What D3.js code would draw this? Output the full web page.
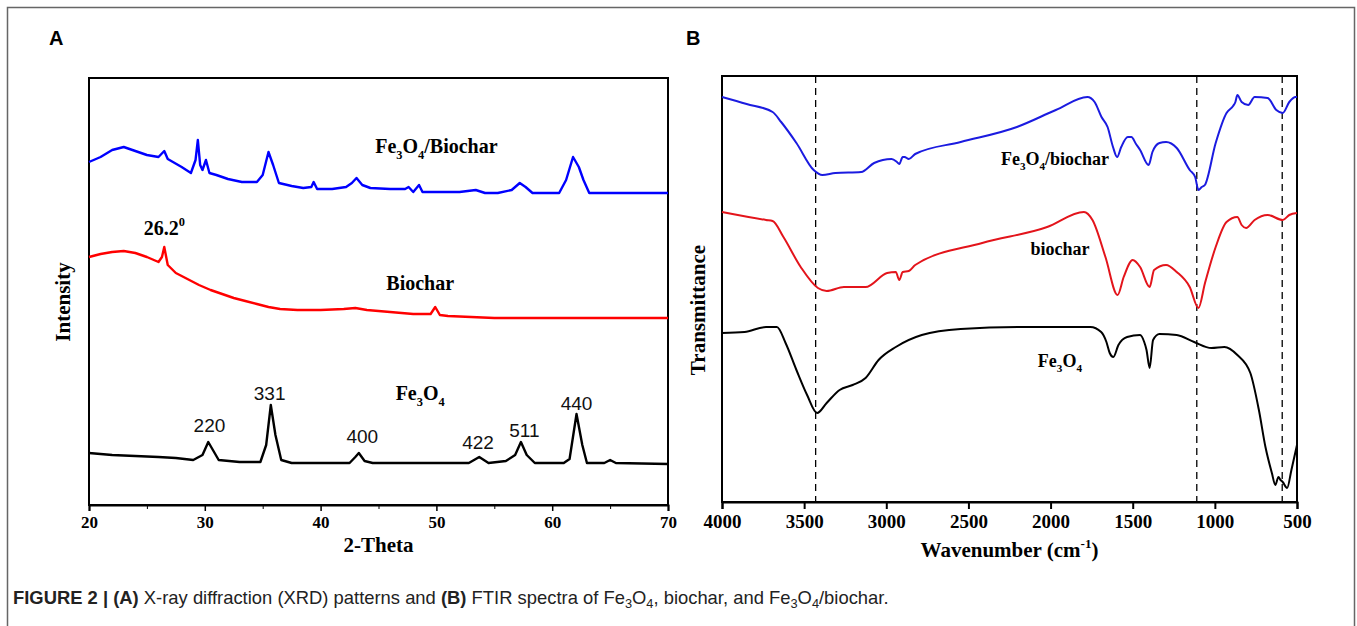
<html>
<head>
<script src="https://d3js.org/d3.v7.min.js"></script>
</head>
<style>
  body { margin: 0; background: #fff; }
  .axis text { font-family: "Liberation Serif", "Times New Roman", serif; font-weight: bold; }
  .axis path, .axis line { stroke: #000; }
</style>
<body>
<svg id="fig" width="1357" height="626"></svg>
<script>
// ---- data: XRD (2-theta, intensity a.u.) ----
const xrd_ticks = [20, 30, 40, 50, 60, 70];
const xrd_fe3o4 = [[20,52],[22,50],[24,49],[26,48],[27.5,47],[29,45],[29.8,50],[30.3,63],[30.7,55],[31.2,45],[33,43],[34.8,43],[35.3,60],[35.7,100],[36.1,70],[36.6,45],[37.5,42],[40,42],[42.5,42],[43,48],[43.3,52],[43.8,44],[44.5,42],[47,42],[50,42],[52.8,42],[53.7,48],[54.5,42],[56,44],[56.8,50],[57.3,63],[57.8,50],[58.5,42],[61,42],[61.5,46],[62.1,91],[62.6,60],[63,42],[64.5,42],[65,45],[65.5,42],[70,41]];
const xrd_biochar = [[20,248],[21,251],[22,253],[23,254],[24,252],[25,248],[26,243],[26.3,248],[26.5,258],[26.8,240],[27.5,232],[28.5,226],[29.5,220],[30.5,215],[31.5,211],[32.5,207],[33.5,204],[34.5,201],[35.5,198],[36.5,196],[38,195],[40,195],[42,196],[43,197],[44,195],[46,193],[48,191],[49.5,191],[49.9,198],[50.3,190],[51,189],[53,188],[55,187],[57,187],[60,187],[63,187],[66,187],[70,187]];
const xrd_composite = [[20,343],[21,348],[22,355],[23,358],[24,354],[25,350],[26,348],[26.5,354],[26.8,346],[28,338],[28.8,332],[29.2,345],[29.4,365],[29.6,340],[29.8,335],[30.1,345],[30.4,332],[31,330],[32,326],[33.2,323],[34.5,323],[35,330],[35.5,353],[35.9,340],[36.4,322],[37.5,319],[38.5,317],[39.2,318],[39.4,323],[39.7,316],[41,316],[42.2,318],[42.7,322],[43.1,327],[43.6,320],[44.3,317],[46,316],[47.3,316],[47.6,318],[48,313],[48.5,320],[48.8,313],[50,313],[52,313],[53.4,315],[54.2,312],[55.3,312],[56.5,315],[57.2,322],[57.7,318],[58.3,312],[60.6,312],[61.2,325],[61.8,348],[62.3,338],[62.7,325],[63.2,312],[65,312],[70,312]];
const hkl_labels = [["220",30.4,78],["331",35.6,110],["400",43.6,67],["422",53.6,61],["511",57.6,73],["440",62.1,100]];

// ---- data: FTIR (wavenumber, transmittance a.u.) ----
const ftir_ticks = [4000, 3500, 3000, 2500, 2000, 1500, 1000, 500];
const ftir_marks = [3430, 1110, 590];
const ftir_composite = [[4000,405],[3850,398],[3692,390],[3640,380],[3547,359],[3442,332],[3389,327],[3310,329],[3153,330],[3074,339],[2968,343],[2935,340],[2921,338],[2900,345],[2889,345],[2863,343],[2824,348],[2547,360],[2205,375],[1968,392],[1776,405],[1732,400],[1690,385],[1653,375],[1620,355],[1595,345],[1570,355],[1530,365],[1508,365],[1480,358],[1455,352],[1403,337],[1380,350],[1337,359],[1297,360],[1232,354],[1153,332],[1120,325],[1100,312],[1080,315],[1061,317],[995,359],[929,389],[889,396],[875,400],[863,407],[837,400],[797,397],[758,405],[679,404],[626,392],[587,389],[547,400],[508,405],[500,405]];
const ftir_biochar = [[4000,290],[3732,282],[3692,281],[3626,265],[3521,235],[3416,214],[3363,211],[3258,215],[3126,215],[2995,229],[2942,230],[2921,222],[2900,230],[2863,231],[2824,237],[2416,259],[2021,275],[1797,290],[1745,282],[1666,245],[1592,207],[1555,225],[1500,242],[1455,235],[1397,215],[1370,232],[1297,237],[1232,230],[1153,215],[1100,194],[1060,219],[995,255],[929,280],[863,285],[837,277],[810,274],[758,282],[679,287],[587,282],[547,287],[500,289]];
const ftir_fe3o4 = [[4000,169],[3863,170],[3732,175],[3666,175],[3613,159],[3547,132],[3482,107],[3421,89],[3363,99],[3284,112],[3205,117],[3126,124],[3047,142],[2942,155],[2784,167],[2547,173],[2153,175],[1758,175],[1692,170],[1660,160],[1640,149],[1618,145],[1587,157],[1534,165],[1455,167],[1430,160],[1416,152],[1397,134],[1376,162],[1337,168],[1232,167],[1126,160],[1021,154],[942,155],[863,147],[784,129],[732,92],[692,55],[653,29],[632,17],[613,25],[600,22],[587,20],[560,14],[534,32],[500,57]];

const svg = d3.select('#fig');
const serif = '"Liberation Serif", "Times New Roman", serif';
const sans = '"Liberation Sans", Arial, sans-serif';

// outer frame
svg.append('rect').attr('x', 7.5).attr('y', 7.5).attr('width', 1347).attr('height', 660)
   .attr('fill', 'none').attr('stroke', '#666').attr('stroke-width', 1.5);

// text helper with sub/superscript pieces: [text, 'sub'|'sup'|null, dy]
function richText(g, parts, size, opts) {
  const t = g.append('text')
    .attr('font-family', opts.family || serif)
    .attr('font-weight', opts.weight || 'bold')
    .attr('font-size', size)
    .attr('text-anchor', opts.anchor || 'middle')
    .attr('x', opts.x).attr('y', opts.y);
  parts.forEach(p => {
    const s = t.append('tspan').text(p[0]);
    if (p[1] === 'sub') s.attr('font-size', size * 0.62).attr('dy', size * 0.3);
    if (p[1] === 'sup') s.attr('font-size', size * 0.62).attr('dy', -size * 0.45);
    if (p[2]) s.attr('dy', p[2]);
  });
  return t;
}

// ================= panel A =================
const A = {left: 89, top: 78, right: 668, bottom: 505};
const xA = d3.scaleLinear().domain([20, 70]).range([A.left, A.right]);
const yA = d3.scaleLinear().domain([0, 427]).range([A.bottom, A.top]);

svg.append('text').text('A').attr('x', 49).attr('y', 45)
   .attr('font-family', sans).attr('font-weight', 'bold').attr('font-size', 20);

svg.append('rect').attr('x', A.left).attr('y', A.top)
   .attr('width', A.right - A.left).attr('height', A.bottom - A.top)
   .attr('fill', 'none').attr('stroke', '#000').attr('stroke-width', 2);

svg.append('g').attr('class', 'axis')
   .attr('transform', `translate(0,${A.bottom})`)
   .call(d3.axisBottom(xA).tickValues(d3.range(25, 70, 10)).tickSize(4).tickFormat(''))
   .call(g => g.select('.domain').remove());
svg.append('g').attr('class', 'axis')
   .attr('transform', `translate(0,${A.bottom})`)
   .call(d3.axisBottom(xA).tickValues(xrd_ticks).tickSize(6).tickPadding(5).tickFormat(d3.format('d')))
   .call(g => g.select('.domain').attr('stroke-width', 2))
   .call(g => g.selectAll('line').attr('stroke-width', 1.5))
   .call(g => g.selectAll('text').attr('font-size', 17).attr('fill', '#000'));

const lineA = d3.line().x(d => xA(d[0])).y(d => yA(d[1]));
[[xrd_fe3o4, '#000'], [xrd_biochar, '#ff0000'], [xrd_composite, '#0000ff']].forEach(s => {
  svg.append('path').datum(s[0]).attr('d', lineA)
     .attr('fill', 'none').attr('stroke', s[1]).attr('stroke-width', 2.4)
     .attr('stroke-linejoin', 'round');
});

hkl_labels.forEach(h => {
  svg.append('text').text(h[0]).attr('x', xA(h[1])).attr('y', yA(h[2]))
     .attr('dominant-baseline', 'middle').attr('text-anchor', 'middle')
     .attr('font-family', sans).attr('font-size', 19).attr('fill', '#111');
});

richText(svg, [['Fe'], ['3', 'sub'], ['O', null, -20 * 0.3], ['4', 'sub']], 20, {x: xA(48.6), y: yA(105)});
richText(svg, [['Biochar']], 20, {x: xA(48.6), y: yA(215)});
richText(svg, [['Fe'], ['3', 'sub'], ['O', null, -20 * 0.3], ['4', 'sub'], ['/Biochar', null, -20 * 0.3]], 20, {x: xA(50), y: yA(352)});
richText(svg, [['26.2'], ['0', 'sup']], 20, {x: xA(26.5), y: yA(270)});

svg.append('text').text('2-Theta')
   .attr('x', (A.left + A.right) / 2).attr('y', 552).attr('text-anchor', 'middle')
   .attr('font-family', serif).attr('font-weight', 'bold').attr('font-size', 21);
svg.append('text').text('Intensity')
   .attr('transform', `translate(70,302) rotate(-90)`).attr('text-anchor', 'middle')
   .attr('font-family', serif).attr('font-weight', 'bold').attr('font-size', 21);

// ================= panel B =================
const B = {left: 722, top: 76, right: 1297, bottom: 502};
const xB = d3.scaleLinear().domain([4000, 500]).range([B.left, B.right]);
const yB = d3.scaleLinear().domain([0, 426]).range([B.bottom, B.top]);

svg.append('text').text('B').attr('x', 686).attr('y', 45)
   .attr('font-family', sans).attr('font-weight', 'bold').attr('font-size', 20);

svg.append('rect').attr('x', B.left).attr('y', B.top)
   .attr('width', B.right - B.left).attr('height', B.bottom - B.top)
   .attr('fill', 'none').attr('stroke', '#000').attr('stroke-width', 2);

svg.append('g').attr('class', 'axis')
   .attr('transform', `translate(0,${B.bottom})`)
   .call(d3.axisBottom(xB).tickValues(ftir_ticks).tickSize(7).tickPadding(6).tickFormat(d3.format('d')))
   .call(g => g.select('.domain').attr('stroke-width', 2))
   .call(g => g.selectAll('line').attr('stroke-width', 2))
   .call(g => g.selectAll('text').attr('font-size', 19).attr('fill', '#000'));

ftir_marks.forEach(w => {
  svg.append('line').attr('x1', xB(w)).attr('x2', xB(w)).attr('y1', B.top).attr('y2', B.bottom)
     .attr('stroke', '#000').attr('stroke-width', 1.3).attr('stroke-dasharray', '7,5');
});

const lineB = d3.line().x(d => xB(d[0])).y(d => yB(d[1])).curve(d3.curveMonotoneX);
[[ftir_fe3o4, '#000'], [ftir_biochar, '#e3141b'], [ftir_composite, '#1b1be0']].forEach(s => {
  svg.append('path').datum(s[0].slice().reverse()).attr('d', lineB)
     .attr('fill', 'none').attr('stroke', s[1]).attr('stroke-width', 2)
     .attr('stroke-linejoin', 'round');
});

richText(svg, [['Fe'], ['3', 'sub'], ['O', null, -18 * 0.3], ['4', 'sub'], ['/biochar', null, -18 * 0.3]], 18, {x: xB(1973), y: yB(337)});
richText(svg, [['biochar']], 18, {x: xB(1943), y: yB(247)});
richText(svg, [['Fe'], ['3', 'sub'], ['O', null, -18 * 0.3], ['4', 'sub']], 18, {x: xB(1943), y: yB(135)});

richText(svg, [['Wavenumber (cm'], ['-1', 'sup'], [')', null, 21 * 0.45]], 21,
  {x: (B.left + B.right) / 2, y: 557});
svg.append('text').text('Transmittance')
   .attr('transform', `translate(705,310) rotate(-90)`).attr('text-anchor', 'middle')
   .attr('font-family', serif).attr('font-weight', 'bold').attr('font-size', 21);

// ================= caption =================
const cap = svg.append('text').attr('x', 13).attr('y', 604)
   .attr('font-family', sans)
   .attr('font-size', 18.4).attr('fill', '#222');
const capParts = [
  ['FIGURE 2 | (A)', 'b'], [' X-ray diffraction (XRD) patterns and ', ''], ['(B)', 'b'],
  [' FTIR spectra of Fe', ''], ['3', 's'], ['O', 'u'], ['4', 's'], [', biochar, and Fe', 'u'],
  ['3', 's'], ['O', 'u'], ['4', 's'], ['/biochar.', 'u']
];
capParts.forEach(p => {
  const s = cap.append('tspan').text(p[0]);
  if (p[1] === 'b') s.attr('font-weight', 'bold');
  if (p[1] === 's') s.attr('font-size', 12.8).attr('dy', 4);
  if (p[1] === 'u') s.attr('dy', -4);
});
</script>
</body>
</html>
